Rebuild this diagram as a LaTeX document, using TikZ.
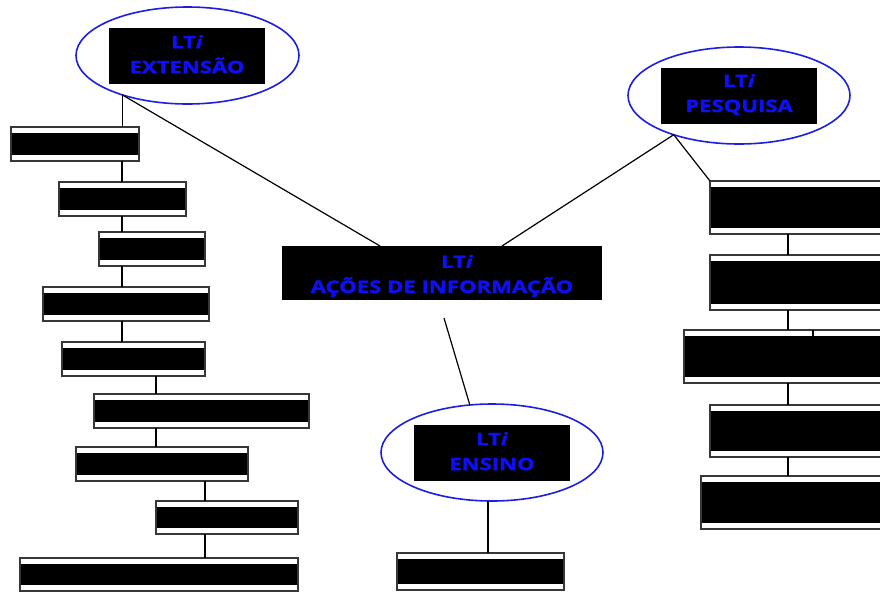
\documentclass[tikz,border=0pt]{standalone}
\usepackage{fontspec}
\newfontfamily\lblfont[FakeStretch=1.30,FakeBold=2,UprightFont={* Bold},ItalicFont={* Bold Italic}]{Open Sans}
\usetikzlibrary{shapes.geometric,calc}
\definecolor{ringblue}{RGB}{30,30,225}
\definecolor{txtblue}{RGB}{15,15,245}
\definecolor{boxgray}{RGB}{55,55,55}
\begin{document}
\begin{tikzpicture}[x=1pt,y=-1pt,
 box/.style={draw=boxgray,line width=1.3pt,fill=white,inner sep=0pt,outer sep=0pt,anchor=north west,
  path picture={\fill[black] ([yshift=-6pt]path picture bounding box.north west) rectangle ([yshift=6pt]path picture bounding box.south east);}},
 ring/.style={ellipse,draw=ringblue,line width=1.6pt,fill=white,inner sep=0pt,outer sep=0pt,minimum width=223pt,minimum height=97pt},
 tagbox/.style={fill=black,inner sep=0pt,outer sep=0pt,minimum width=156pt,minimum height=56pt},
 tagtext/.style={text=txtblue,font=\lblfont\fontsize{17}{25}\selectfont,align=center,inner sep=0pt},
 link/.style={draw=black,line width=1.2pt}]
\useasboundingbox (0,0) rectangle (880,592);
\clip (0,0) rectangle (880,592);
% columns for vertical connectors
\coordinate (c1) at (122,0);
\coordinate (c2) at (156,0);
\coordinate (c3) at (205,0);
\coordinate (c4) at (788,0);
\coordinate (c5) at (488,0);
\coordinate (c6) at (813,0);
% central box
\node[tagbox,minimum width=320pt,minimum height=54pt] (cen) at (442,273) {};
\node[tagtext] (cent) at ($(cen.center)+(0,2.9)$) {\hspace*{30pt}LT\textit{i}\\AÇÕES DE INFORMAÇÃO};
% extension
\node[ring] (ext) at (187.5,55.5) {};
\node[tagbox] (extb) at (187,56) {};
\node[tagtext] (extt) at ($(extb.center)+(0,-1.75)$) {LT\textit{i}\\EXTENSÃO};
% pesquisa
\node[ring,minimum width=222pt] (pes) at (739,95.5) {};
\node[tagbox] (pesb) at (739,96) {};
\node[tagtext] (pest) at ($(pesb.center)+(0,-1.5)$) {LT\textit{i}\\PESQUISA};
% ensino
\node[ring,minimum width=222pt] (ens) at (492,452.5) {};
\node[tagbox] (ensb) at (492,453) {};
\node[tagtext] (enst) at ($(ensb.center)+(0,-1.75)$) {LT\textit{i}\\ENSINO};
% left boxes
\node[box,minimum width=128pt,minimum height=34pt] (l1) at (11,127) {};
\node[box,minimum width=127pt,minimum height=34pt] (l2) at (59,182) {};
\node[box,minimum width=106pt,minimum height=34pt] (l3) at (99,232) {};
\node[box,minimum width=166pt,minimum height=34pt] (l4) at (43,287) {};
\node[box,minimum width=143pt,minimum height=34pt] (l5) at (62,342) {};
\node[box,minimum width=215pt,minimum height=34pt] (l6) at (94,394) {};
\node[box,minimum width=172pt,minimum height=34pt] (l7) at (76,447) {};
\node[box,minimum width=142pt,minimum height=33pt] (l8) at (156,501) {};
\node[box,minimum width=278pt,minimum height=33pt] (l9) at (20,558) {};
% right boxes
\node[box,minimum width=200pt,minimum height=53pt] (r1) at (710,181) {};
\node[box,minimum width=200pt,minimum height=55pt] (r2) at (710,255) {};
\node[box,minimum width=220pt,minimum height=53pt] (r3) at (684,330) {};
\node[box,minimum width=200pt,minimum height=52pt] (r4) at (710,405) {};
\node[box,minimum width=210pt,minimum height=53pt] (r5) at (701,476) {};
% ensino box
\node[box,minimum width=167pt,minimum height=37pt] (e1) at (397,553) {};
% connectors
\draw[link] (ext.211) -- ($(cen.north west)+(98,0)$);
\draw[link] ($(cen.north west)+(220,0)$) -- (pes.211);
\draw[link] (pes.211) -- (r1.north west);
\coordinate (cenfoot) at (444,318);
\draw[link] (cenfoot) -- (ens.115);
\draw[link] (ens.south -| c5) -- (e1.north -| c5);
\draw[link] (ext.211) -- (l1.north -| ext.211);
\draw[link] (l1.south -| c1) -- (l2.north -| c1);
\draw[link] (l2.south -| c1) -- (l3.north -| c1);
\draw[link] (l3.south -| c1) -- (l4.north -| c1);
\draw[link] (l4.south -| c1) -- (l5.north -| c1);
\draw[link] (l5.south -| c2) -- (l6.north -| c2);
\draw[link] (l6.south -| c2) -- (l7.north -| c2);
\draw[link] (l7.south -| c3) -- (l8.north -| c3);
\draw[link] (l8.south -| c3) -- (l9.north -| c3);
\draw[link] (r1.south -| c4) -- (r2.north -| c4);
\draw[link] (r2.south -| c4) -- (r3.north -| c4);
\draw[link] (r3.south -| c4) -- (r4.north -| c4);
\draw[link] (r4.south -| c4) -- (r5.north -| c4);
\draw[link] (r3.north -| c6) -- ($(r3.north -| c6)+(0,7)$);
\end{tikzpicture}
\end{document}
